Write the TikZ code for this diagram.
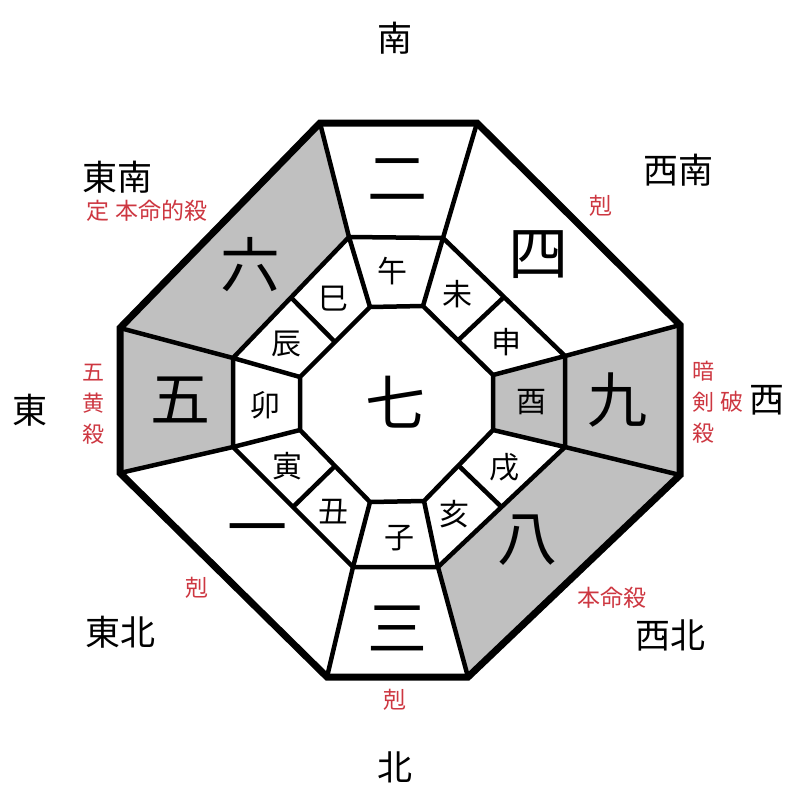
\documentclass[tikz,border=0pt]{standalone}
\usepackage{fontspec}
\setmainfont{Noto Sans CJK JP}
\usetikzlibrary{calc}
\definecolor{kokured}{RGB}{205,55,65}
\definecolor{shade}{RGB}{192,192,192}

\begin{document}
\begin{tikzpicture}[
    x=1pt, y=-1pt,
    rim/.style={line width=7pt, line join=miter},
    wall/.style={line width=4.5pt},
    sector/.style={fill=shade},
    dir/.style={font=\fontsize{35}{35}\selectfont},
    warn/.style={text=kokured, font=\fontsize{23}{23}\selectfont},
    vwarn/.style={text=kokured, align=center, font=\fontsize{22}{31}\selectfont},
    star/.style={font=\fontsize{60}{60}\selectfont},
    branch/.style={font=\fontsize{30}{30}\selectfont}
]
\useasboundingbox (0,0) rectangle (800,800);
%
\foreach \n/\x/\y in {1/320/123, 2/477/123, 3/680/325, 4/680/475,
                      5/468/677, 6/327/677, 7/120/473, 8/120/328}
    \coordinate (O\n) at (\x,\y);
\foreach \n/\x/\y in {1/349/237, 2/443/238, 3/565/356, 4/565/447,
                      5/438/567, 6/353/567, 7/233/447, 8/233/358}
    \coordinate (M\n) at (\x,\y);
\foreach \n/\x/\y in {1/370/307, 2/423/306, 3/493/375, 4/493/430,
                      5/424/501, 6/370/502, 7/300/430, 8/300/377}
    \coordinate (I\n) at (\x,\y);

%
\fill[sector] (O8) -- (O1) -- (M1) -- (M8) -- cycle;
\fill[sector] (O7) -- (O8) -- (M8) -- (M7) -- cycle;
\fill[sector] (O3) -- (O4) -- (M4) -- (M3) -- cycle;
\fill[sector] (O4) -- (O5) -- (M5) -- (M4) -- cycle;
\fill[sector] (M3) -- (M4) -- (I4) -- (I3) -- cycle;

%
\foreach \i in {1,...,8} {
    \draw[wall] (O\i) -- (M\i);
    \draw[wall] (M\i) -- (I\i);
}
\foreach \a/\b in {2/3, 4/5, 6/7, 8/1}
    \draw[wall] ($(M\a)!0.5!(M\b)$) -- ($(I\a)!0.5!(I\b)$);
\draw[wall] (M1) -- (M2) -- (M3) -- (M4) -- (M5) -- (M6) -- (M7) -- (M8) -- cycle;
\draw[wall] (I1) -- (I2) -- (I3) -- (I4) -- (I5) -- (I6) -- (I7) -- (I8) -- cycle;
\draw[rim] (O1) -- (O2) -- (O3) -- (O4) -- (O5) -- (O6) -- (O7) -- (O8) -- cycle;

%
\node[star] (nine2) at (397,180) {二};
\node[star] (nine4) at (538,255) {四};
\node[star] (nine9) at (617,400) {九};
\node[star] (nine8) at (527,540) {八};
\node[star] (nine3) at (397,628) {三};
\node[star] (nine1) at (257,537) {一};
\node[star] (nine5) at (180,400) {五};
\node[star] (nine6) at (250,265) {六};
\node[star] (nine7) at (395,402) {七};

%
\node[branch] (uma)   at (392,271) {午};
\node[branch] (hitsuji) at (457,294) {未};
\node[branch] (saru)  at (506,342) {申};
\node[branch] (tori)  at (531,402) {酉};
\node[branch] (inu)   at (504,467) {戌};
\node[branch] (i)     at (454,514) {亥};
\node[branch] (ne)    at (399,538) {子};
\node[branch] (ushi)  at (333,512) {丑};
\node[branch] (tora)  at (287,466) {寅};
\node[branch] (u)     at (265,405) {卯};
\node[branch] (tatsu) at (286,344) {辰};
\node[branch] (mi)    at (333,299) {巳};

%
\node[dir] (south) at (395,38) {南};
\node[dir] (southeast) at (117,177) {東南};
\node[warn] (seNote) at (147,211) {定 本命的殺};
\node[dir] (southwest) at (678,170) {西南};
\node[warn] (swNote) at (601,206) {剋};
\node[dir] (east) at (30,410) {東};
\node[vwarn] (eNote) at (93,404) {五\\黄\\殺};
\node[vwarn] (wNote) at (703,402) {暗\\剣\\殺};
\node[warn] (wBreak) at (732,402) {破};
\node[dir] (west) at (767,400) {西};
\node[warn] (nwNote) at (612,598) {本命殺};
\node[dir] (northwest) at (670,635) {西北};
\node[warn] (neNote) at (197,588) {剋};
\node[dir] (northeast) at (120,632) {東北};
\node[warn] (nNote) at (395,700) {剋};
\node[dir] (north) at (395,767) {北};
\end{tikzpicture}
\end{document}
